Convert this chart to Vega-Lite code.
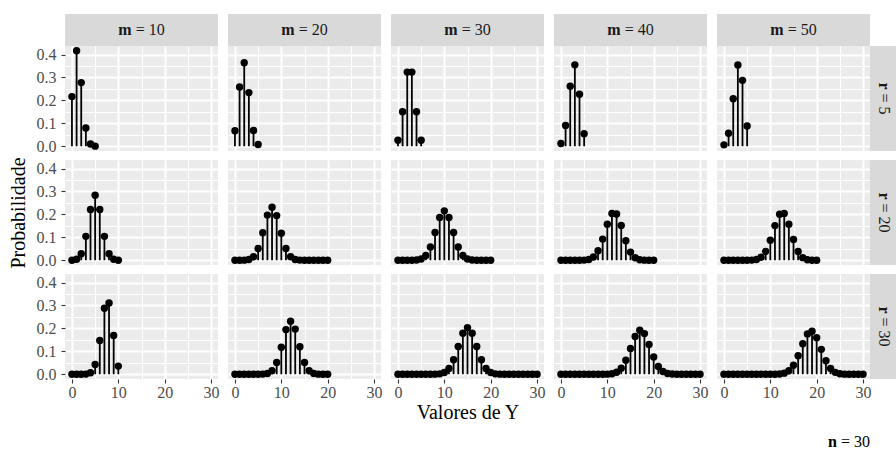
{
"$schema": "https://vega.github.io/schema/vega-lite/v6.json",
"background": "white",
"padding": {"left": 8, "top": 14, "right": 0, "bottom": 0},
"autosize": {"type": "pad"},
"datasets": {"h": [
{"m":10,"r":5,"k":0,"p":0.21657},{"m":10,"r":5,"k":1,"p":0.41648},{"m":10,"r":5,"k":2,"p":0.27765},{"m":10,"r":5,"k":3,"p":0.07933},{"m":10,"r":5,"k":4,"p":0.00957},{"m":10,"r":5,"k":5,"p":0.00038},
{"m":20,"r":5,"k":0,"p":0.06726},{"m":20,"r":5,"k":1,"p":0.25869},{"m":20,"r":5,"k":2,"p":0.36408},{"m":20,"r":5,"k":3,"p":0.23405},{"m":20,"r":5,"k":4,"p":0.0686},{"m":20,"r":5,"k":5,"p":0.00732},
{"m":30,"r":5,"k":0,"p":0.02609},{"m":30,"r":5,"k":1,"p":0.15054},{"m":30,"r":5,"k":2,"p":0.32338},{"m":30,"r":5,"k":3,"p":0.32338},{"m":30,"r":5,"k":4,"p":0.15054},{"m":30,"r":5,"k":5,"p":0.02609},
{"m":40,"r":5,"k":0,"p":0.01177},{"m":40,"r":5,"k":1,"p":0.09057},{"m":40,"r":5,"k":2,"p":0.26166},{"m":40,"r":5,"k":3,"p":0.35511},{"m":40,"r":5,"k":4,"p":0.22654},{"m":40,"r":5,"k":5,"p":0.05437},
{"m":50,"r":5,"k":0,"p":0.00593},{"m":50,"r":5,"k":1,"p":0.057},{"m":50,"r":5,"k":2,"p":0.20689},{"m":50,"r":5,"k":3,"p":0.35467},{"m":50,"r":5,"k":4,"p":0.28741},{"m":50,"r":5,"k":5,"p":0.08814},
{"m":10,"r":20,"k":0,"p":0.00022},{"m":10,"r":20,"k":1,"p":0.00396},{"m":10,"r":20,"k":2,"p":0.02824},{"m":10,"r":20,"k":3,"p":0.10426},{"m":10,"r":20,"k":4,"p":0.22154},{"m":10,"r":20,"k":5,"p":0.28358},{"m":10,"r":20,"k":6,"p":0.22154},{"m":10,"r":20,"k":7,"p":0.10426},{"m":10,"r":20,"k":8,"p":0.02824},{"m":10,"r":20,"k":9,"p":0.00396},{"m":10,"r":20,"k":10,"p":0.00022},
{"m":20,"r":20,"k":0,"p":0.0000006},{"m":20,"r":20,"k":1,"p":0.00002},{"m":20,"r":20,"k":2,"p":0.00035},{"m":20,"r":20,"k":3,"p":0.0029},{"m":20,"r":20,"k":4,"p":0.01495},{"m":20,"r":20,"k":5,"p":0.05103},{"m":20,"r":20,"k":6,"p":0.1196},{"m":20,"r":20,"k":7,"p":0.19698},{"m":20,"r":20,"k":8,"p":0.23118},{"m":20,"r":20,"k":9,"p":0.19468},{"m":20,"r":20,"k":10,"p":0.11778},{"m":20,"r":20,"k":11,"p":0.05099},{"m":20,"r":20,"k":12,"p":0.01564},{"m":20,"r":20,"k":13,"p":0.00335},{"m":20,"r":20,"k":14,"p":0.00049},{"m":20,"r":20,"k":15,"p":0.00005},{"m":20,"r":20,"k":16,"p":0.000003},{"m":20,"r":20,"k":17,"p":0.0000001},{"m":20,"r":20,"k":18,"p":0},{"m":20,"r":20,"k":19,"p":0},{"m":20,"r":20,"k":20,"p":0},
{"m":30,"r":20,"k":0,"p":0},{"m":30,"r":20,"k":1,"p":0.0000004},{"m":30,"r":20,"k":2,"p":0.000009},{"m":30,"r":20,"k":3,"p":0.00012},{"m":30,"r":20,"k":4,"p":0.00095},{"m":30,"r":20,"k":5,"p":0.00527},{"m":30,"r":20,"k":6,"p":0.0206},{"m":30,"r":20,"k":7,"p":0.05816},{"m":30,"r":20,"k":8,"p":0.12077},{"m":30,"r":20,"k":9,"p":0.18645},{"m":30,"r":20,"k":10,"p":0.21535},{"m":30,"r":20,"k":11,"p":0.18645},{"m":30,"r":20,"k":12,"p":0.12077},{"m":30,"r":20,"k":13,"p":0.05816},{"m":30,"r":20,"k":14,"p":0.0206},{"m":30,"r":20,"k":15,"p":0.00527},{"m":30,"r":20,"k":16,"p":0.00095},{"m":30,"r":20,"k":17,"p":0.00012},{"m":30,"r":20,"k":18,"p":0.000009},{"m":30,"r":20,"k":19,"p":0.0000004},{"m":30,"r":20,"k":20,"p":0},
{"m":40,"r":20,"k":0,"p":0},{"m":40,"r":20,"k":1,"p":0},{"m":40,"r":20,"k":2,"p":0.0000004},{"m":40,"r":20,"k":3,"p":0.0000073},{"m":40,"r":20,"k":4,"p":0.00008},{"m":40,"r":20,"k":5,"p":0.00063},{"m":40,"r":20,"k":6,"p":0.00345},{"m":40,"r":20,"k":7,"p":0.01379},{"m":40,"r":20,"k":8,"p":0.04109},{"m":40,"r":20,"k":9,"p":0.09227},{"m":40,"r":20,"k":10,"p":0.15732},{"m":40,"r":20,"k":11,"p":0.20431},{"m":40,"r":20,"k":12,"p":0.20199},{"m":40,"r":20,"k":13,"p":0.15132},{"m":40,"r":20,"k":14,"p":0.08512},{"m":40,"r":20,"k":15,"p":0.03541},{"m":40,"r":20,"k":16,"p":0.01064},{"m":40,"r":20,"k":17,"p":0.00223},{"m":40,"r":20,"k":18,"p":0.0003},{"m":40,"r":20,"k":19,"p":0.00002},{"m":40,"r":20,"k":20,"p":0.0000009},
{"m":50,"r":20,"k":0,"p":0},{"m":50,"r":20,"k":1,"p":0},{"m":50,"r":20,"k":2,"p":0},{"m":50,"r":20,"k":3,"p":0.0000007},{"m":50,"r":20,"k":4,"p":0.0000095},{"m":50,"r":20,"k":5,"p":0.00009},{"m":50,"r":20,"k":6,"p":0.00065},{"m":50,"r":20,"k":7,"p":0.00338},{"m":50,"r":20,"k":8,"p":0.01314},{"m":50,"r":20,"k":9,"p":0.03871},{"m":50,"r":20,"k":10,"p":0.0873},{"m":50,"r":20,"k":11,"p":0.15117},{"m":50,"r":20,"k":12,"p":0.20099},{"m":50,"r":20,"k":13,"p":0.20435},{"m":50,"r":20,"k":14,"p":0.15752},{"m":50,"r":20,"k":15,"p":0.09073},{"m":50,"r":20,"k":16,"p":0.03817},{"m":50,"r":20,"k":17,"p":0.01131},{"m":50,"r":20,"k":18,"p":0.00222},{"m":50,"r":20,"k":19,"p":0.00026},{"m":50,"r":20,"k":20,"p":0.00001},
{"m":10,"r":30,"k":0,"p":0},{"m":10,"r":30,"k":1,"p":0.0000004},{"m":10,"r":30,"k":2,"p":0.00002},{"m":10,"r":30,"k":3,"p":0.00057},{"m":10,"r":30,"k":4,"p":0.00679},{"m":10,"r":30,"k":5,"p":0.04237},{"m":10,"r":30,"k":6,"p":0.1471},{"m":10,"r":30,"k":7,"p":0.2882},{"m":10,"r":30,"k":8,"p":0.31072},{"m":10,"r":30,"k":9,"p":0.16878},{"m":10,"r":30,"k":10,"p":0.03544},
{"m":20,"r":30,"k":0,"p":0},{"m":20,"r":30,"k":1,"p":0},{"m":20,"r":30,"k":2,"p":0},{"m":20,"r":30,"k":3,"p":0.0000001},{"m":20,"r":30,"k":4,"p":0.000003},{"m":20,"r":30,"k":5,"p":0.00005},{"m":20,"r":30,"k":6,"p":0.00049},{"m":20,"r":30,"k":7,"p":0.00335},{"m":20,"r":30,"k":8,"p":0.01564},{"m":20,"r":30,"k":9,"p":0.05099},{"m":20,"r":30,"k":10,"p":0.11778},{"m":20,"r":30,"k":11,"p":0.19468},{"m":20,"r":30,"k":12,"p":0.23118},{"m":20,"r":30,"k":13,"p":0.19698},{"m":20,"r":30,"k":14,"p":0.1196},{"m":20,"r":30,"k":15,"p":0.05103},{"m":20,"r":30,"k":16,"p":0.01495},{"m":20,"r":30,"k":17,"p":0.0029},{"m":20,"r":30,"k":18,"p":0.00035},{"m":20,"r":30,"k":19,"p":0.00002},{"m":20,"r":30,"k":20,"p":0.0000006},
{"m":30,"r":30,"k":0,"p":0},{"m":30,"r":30,"k":1,"p":0},{"m":30,"r":30,"k":2,"p":0},{"m":30,"r":30,"k":3,"p":0},{"m":30,"r":30,"k":4,"p":0},{"m":30,"r":30,"k":5,"p":0.0000002},{"m":30,"r":30,"k":6,"p":0.000003},{"m":30,"r":30,"k":7,"p":0.000035},{"m":30,"r":30,"k":8,"p":0.00029},{"m":30,"r":30,"k":9,"p":0.00173},{"m":30,"r":30,"k":10,"p":0.00763},{"m":30,"r":30,"k":11,"p":0.02523},{"m":30,"r":30,"k":12,"p":0.06326},{"m":30,"r":30,"k":13,"p":0.12127},{"m":30,"r":30,"k":14,"p":0.17882},{"m":30,"r":30,"k":15,"p":0.20345},{"m":30,"r":30,"k":16,"p":0.17882},{"m":30,"r":30,"k":17,"p":0.12127},{"m":30,"r":30,"k":18,"p":0.06326},{"m":30,"r":30,"k":19,"p":0.02523},{"m":30,"r":30,"k":20,"p":0.00763},{"m":30,"r":30,"k":21,"p":0.00173},{"m":30,"r":30,"k":22,"p":0.00029},{"m":30,"r":30,"k":23,"p":0.000035},{"m":30,"r":30,"k":24,"p":0.000003},{"m":30,"r":30,"k":25,"p":0.0000002},{"m":30,"r":30,"k":26,"p":0},{"m":30,"r":30,"k":27,"p":0},{"m":30,"r":30,"k":28,"p":0},{"m":30,"r":30,"k":29,"p":0},{"m":30,"r":30,"k":30,"p":0},
{"m":40,"r":30,"k":0,"p":0},{"m":40,"r":30,"k":1,"p":0},{"m":40,"r":30,"k":2,"p":0},{"m":40,"r":30,"k":3,"p":0},{"m":40,"r":30,"k":4,"p":0},{"m":40,"r":30,"k":5,"p":0},{"m":40,"r":30,"k":6,"p":0.00000004},{"m":40,"r":30,"k":7,"p":0.0000007},{"m":40,"r":30,"k":8,"p":0.0000081},{"m":40,"r":30,"k":9,"p":0.00007},{"m":40,"r":30,"k":10,"p":0.00046},{"m":40,"r":30,"k":11,"p":0.00228},{"m":40,"r":30,"k":12,"p":0.00873},{"m":40,"r":30,"k":13,"p":0.02604},{"m":40,"r":30,"k":14,"p":0.06098},{"m":40,"r":30,"k":15,"p":0.11274},{"m":40,"r":30,"k":16,"p":0.16514},{"m":40,"r":30,"k":17,"p":0.192},{"m":40,"r":30,"k":18,"p":0.17718},{"m":40,"r":30,"k":19,"p":0.12957},{"m":40,"r":30,"k":20,"p":0.07483},{"m":40,"r":30,"k":21,"p":0.03394},{"m":40,"r":30,"k":22,"p":0.01199},{"m":40,"r":30,"k":23,"p":0.00326},{"m":40,"r":30,"k":24,"p":0.00067},{"m":40,"r":30,"k":25,"p":0.0001},{"m":40,"r":30,"k":26,"p":0.000011},{"m":40,"r":30,"k":27,"p":0.0000009},{"m":40,"r":30,"k":28,"p":0},{"m":40,"r":30,"k":29,"p":0},{"m":40,"r":30,"k":30,"p":0},
{"m":50,"r":30,"k":0,"p":0},{"m":50,"r":30,"k":1,"p":0},{"m":50,"r":30,"k":2,"p":0},{"m":50,"r":30,"k":3,"p":0},{"m":50,"r":30,"k":4,"p":0},{"m":50,"r":30,"k":5,"p":0},{"m":50,"r":30,"k":6,"p":0},{"m":50,"r":30,"k":7,"p":0},{"m":50,"r":30,"k":8,"p":0.0000004},{"m":50,"r":30,"k":9,"p":0.000004},{"m":50,"r":30,"k":10,"p":0.000035},{"m":50,"r":30,"k":11,"p":0.00023},{"m":50,"r":30,"k":12,"p":0.00118},{"m":50,"r":30,"k":13,"p":0.00479},{"m":50,"r":30,"k":14,"p":0.01537},{"m":50,"r":30,"k":15,"p":0.03936},{"m":50,"r":30,"k":16,"p":0.08071},{"m":50,"r":30,"k":17,"p":0.13294},{"m":50,"r":30,"k":18,"p":0.17602},{"m":50,"r":30,"k":19,"p":0.18723},{"m":50,"r":30,"k":20,"p":0.15962},{"m":50,"r":30,"k":21,"p":0.10858},{"m":50,"r":30,"k":22,"p":0.05855},{"m":50,"r":30,"k":23,"p":0.02479},{"m":50,"r":30,"k":24,"p":0.00814},{"m":50,"r":30,"k":25,"p":0.00203},{"m":50,"r":30,"k":26,"p":0.00038},{"m":50,"r":30,"k":27,"p":0.00005},{"m":50,"r":30,"k":28,"p":0.000004},{"m":50,"r":30,"k":29,"p":0.0000002},{"m":50,"r":30,"k":30,"p":0}
]},
"columns": 10,
"spacing": 0,
"bounds": "flush",
"align": "each",
"concat": [
{"width":153,"height":32,"view":{"fill":"#D9D9D9"},"data":{"values":[{}]},"layer":[{"mark":{"type":"text","text":"m","fontWeight":"bold","align":"right","dx":-9.85},"encoding":{}},{"mark":{"type":"text","text":"= 10","align":"left","dx":-5.85},"encoding":{}}]},
{"width":9.5,"height":1,"data":{"values":[{}]},"mark":{"type":"text","text":"","fontSize":0},"encoding":{}},
{"width":153,"height":32,"view":{"fill":"#D9D9D9"},"data":{"values":[{}]},"layer":[{"mark":{"type":"text","text":"m","fontWeight":"bold","align":"right","dx":-9.85},"encoding":{}},{"mark":{"type":"text","text":"= 20","align":"left","dx":-5.85},"encoding":{}}]},
{"width":9.5,"height":1,"data":{"values":[{}]},"mark":{"type":"text","text":"","fontSize":0},"encoding":{}},
{"width":153,"height":32,"view":{"fill":"#D9D9D9"},"data":{"values":[{}]},"layer":[{"mark":{"type":"text","text":"m","fontWeight":"bold","align":"right","dx":-9.85},"encoding":{}},{"mark":{"type":"text","text":"= 30","align":"left","dx":-5.85},"encoding":{}}]},
{"width":9.5,"height":1,"data":{"values":[{}]},"mark":{"type":"text","text":"","fontSize":0},"encoding":{}},
{"width":153,"height":32,"view":{"fill":"#D9D9D9"},"data":{"values":[{}]},"layer":[{"mark":{"type":"text","text":"m","fontWeight":"bold","align":"right","dx":-9.85},"encoding":{}},{"mark":{"type":"text","text":"= 40","align":"left","dx":-5.85},"encoding":{}}]},
{"width":9.5,"height":1,"data":{"values":[{}]},"mark":{"type":"text","text":"","fontSize":0},"encoding":{}},
{"width":153,"height":32,"view":{"fill":"#D9D9D9"},"data":{"values":[{}]},"layer":[{"mark":{"type":"text","text":"m","fontWeight":"bold","align":"right","dx":-9.85},"encoding":{}},{"mark":{"type":"text","text":"= 50","align":"left","dx":-5.85},"encoding":{}}]},
{"width":1,"height":1,"data":{"values":[{}]},"mark":{"type":"text","text":"","fontSize":0},"encoding":{}},

{"width":153,"height":105,"view":{"fill":"#EBEBEB"},"data":{"name":"h"},"transform":[{"filter":"datum.m==10 && datum.r==5"}],"resolve":{"axis":{"x":"independent","y":"independent"}},"layer":[{"mark":{"type":"rule","color":"#000000","strokeWidth":1.8},"encoding":{"x":{"field":"k","type":"quantitative","scale":{"domain":[-1.5,31.5],"nice":false,"zero":false},"axis":{"values":[0,10,20,30],"labels":false,"ticks":false,"title":null}},"y":{"field":"p","type":"quantitative","scale":{"domain":[-0.0208,0.4373],"nice":false,"zero":false},"axis":{"values":[0,0.1,0.2,0.3,0.4],"format":".1f","title":null}},"y2":{"datum":0}}},{"mark":{"type":"point","filled":true,"color":"#000000","size":55,"opacity":1},"encoding":{"x":{"field":"k","type":"quantitative","axis":{"orient":"top","grid":true,"gridWidth":1,"values":[5,15,25],"labels":false,"ticks":false,"title":null}},"y":{"field":"p","type":"quantitative","axis":{"orient":"right","grid":true,"gridWidth":1,"values":[0.05,0.15,0.25,0.35],"labels":false,"ticks":false,"title":null}}}}]},
{"width":1,"height":1,"data":{"values":[{}]},"mark":{"type":"text","text":"","fontSize":0},"encoding":{}},
{"width":153,"height":105,"view":{"fill":"#EBEBEB"},"data":{"name":"h"},"transform":[{"filter":"datum.m==20 && datum.r==5"}],"resolve":{"axis":{"x":"independent","y":"independent"}},"layer":[{"mark":{"type":"rule","color":"#000000","strokeWidth":1.8},"encoding":{"x":{"field":"k","type":"quantitative","scale":{"domain":[-1.5,31.5],"nice":false,"zero":false},"axis":{"values":[0,10,20,30],"labels":false,"ticks":false,"title":null}},"y":{"field":"p","type":"quantitative","scale":{"domain":[-0.0208,0.4373],"nice":false,"zero":false},"axis":{"values":[0,0.1,0.2,0.3,0.4],"labels":false,"ticks":false,"title":null}},"y2":{"datum":0}}},{"mark":{"type":"point","filled":true,"color":"#000000","size":55,"opacity":1},"encoding":{"x":{"field":"k","type":"quantitative","axis":{"orient":"top","grid":true,"gridWidth":1,"values":[5,15,25],"labels":false,"ticks":false,"title":null}},"y":{"field":"p","type":"quantitative","axis":{"orient":"right","grid":true,"gridWidth":1,"values":[0.05,0.15,0.25,0.35],"labels":false,"ticks":false,"title":null}}}}]},
{"width":1,"height":1,"data":{"values":[{}]},"mark":{"type":"text","text":"","fontSize":0},"encoding":{}},
{"width":153,"height":105,"view":{"fill":"#EBEBEB"},"data":{"name":"h"},"transform":[{"filter":"datum.m==30 && datum.r==5"}],"resolve":{"axis":{"x":"independent","y":"independent"}},"layer":[{"mark":{"type":"rule","color":"#000000","strokeWidth":1.8},"encoding":{"x":{"field":"k","type":"quantitative","scale":{"domain":[-1.5,31.5],"nice":false,"zero":false},"axis":{"values":[0,10,20,30],"labels":false,"ticks":false,"title":null}},"y":{"field":"p","type":"quantitative","scale":{"domain":[-0.0208,0.4373],"nice":false,"zero":false},"axis":{"values":[0,0.1,0.2,0.3,0.4],"labels":false,"ticks":false,"title":null}},"y2":{"datum":0}}},{"mark":{"type":"point","filled":true,"color":"#000000","size":55,"opacity":1},"encoding":{"x":{"field":"k","type":"quantitative","axis":{"orient":"top","grid":true,"gridWidth":1,"values":[5,15,25],"labels":false,"ticks":false,"title":null}},"y":{"field":"p","type":"quantitative","axis":{"orient":"right","grid":true,"gridWidth":1,"values":[0.05,0.15,0.25,0.35],"labels":false,"ticks":false,"title":null}}}}]},
{"width":1,"height":1,"data":{"values":[{}]},"mark":{"type":"text","text":"","fontSize":0},"encoding":{}},
{"width":153,"height":105,"view":{"fill":"#EBEBEB"},"data":{"name":"h"},"transform":[{"filter":"datum.m==40 && datum.r==5"}],"resolve":{"axis":{"x":"independent","y":"independent"}},"layer":[{"mark":{"type":"rule","color":"#000000","strokeWidth":1.8},"encoding":{"x":{"field":"k","type":"quantitative","scale":{"domain":[-1.5,31.5],"nice":false,"zero":false},"axis":{"values":[0,10,20,30],"labels":false,"ticks":false,"title":null}},"y":{"field":"p","type":"quantitative","scale":{"domain":[-0.0208,0.4373],"nice":false,"zero":false},"axis":{"values":[0,0.1,0.2,0.3,0.4],"labels":false,"ticks":false,"title":null}},"y2":{"datum":0}}},{"mark":{"type":"point","filled":true,"color":"#000000","size":55,"opacity":1},"encoding":{"x":{"field":"k","type":"quantitative","axis":{"orient":"top","grid":true,"gridWidth":1,"values":[5,15,25],"labels":false,"ticks":false,"title":null}},"y":{"field":"p","type":"quantitative","axis":{"orient":"right","grid":true,"gridWidth":1,"values":[0.05,0.15,0.25,0.35],"labels":false,"ticks":false,"title":null}}}}]},
{"width":1,"height":1,"data":{"values":[{}]},"mark":{"type":"text","text":"","fontSize":0},"encoding":{}},
{"width":153,"height":105,"view":{"fill":"#EBEBEB"},"data":{"name":"h"},"transform":[{"filter":"datum.m==50 && datum.r==5"}],"resolve":{"axis":{"x":"independent","y":"independent"}},"layer":[{"mark":{"type":"rule","color":"#000000","strokeWidth":1.8},"encoding":{"x":{"field":"k","type":"quantitative","scale":{"domain":[-1.5,31.5],"nice":false,"zero":false},"axis":{"values":[0,10,20,30],"labels":false,"ticks":false,"title":null}},"y":{"field":"p","type":"quantitative","scale":{"domain":[-0.0208,0.4373],"nice":false,"zero":false},"axis":{"values":[0,0.1,0.2,0.3,0.4],"labels":false,"ticks":false,"title":null}},"y2":{"datum":0}}},{"mark":{"type":"point","filled":true,"color":"#000000","size":55,"opacity":1},"encoding":{"x":{"field":"k","type":"quantitative","axis":{"orient":"top","grid":true,"gridWidth":1,"values":[5,15,25],"labels":false,"ticks":false,"title":null}},"y":{"field":"p","type":"quantitative","axis":{"orient":"right","grid":true,"gridWidth":1,"values":[0.05,0.15,0.25,0.35],"labels":false,"ticks":false,"title":null}}}}]},
{"width":28,"height":105,"view":{"fill":"#D9D9D9"},"data":{"values":[{}]},"layer":[{"mark":{"type":"text","text":"r","fontWeight":"bold","angle":90,"align":"right","dx":-8.95},"encoding":{}},{"mark":{"type":"text","text":"= 5","angle":90,"align":"left","dx":-4.95},"encoding":{}}]},

{"width":1,"height":9,"data":{"values":[{}]},"mark":{"type":"text","text":"","fontSize":0},"encoding":{}},
{"width":1,"height":9,"data":{"values":[{}]},"mark":{"type":"text","text":"","fontSize":0},"encoding":{}},
{"width":1,"height":9,"data":{"values":[{}]},"mark":{"type":"text","text":"","fontSize":0},"encoding":{}},
{"width":1,"height":9,"data":{"values":[{}]},"mark":{"type":"text","text":"","fontSize":0},"encoding":{}},
{"width":1,"height":9,"data":{"values":[{}]},"mark":{"type":"text","text":"","fontSize":0},"encoding":{}},
{"width":1,"height":9,"data":{"values":[{}]},"mark":{"type":"text","text":"","fontSize":0},"encoding":{}},
{"width":1,"height":9,"data":{"values":[{}]},"mark":{"type":"text","text":"","fontSize":0},"encoding":{}},
{"width":1,"height":9,"data":{"values":[{}]},"mark":{"type":"text","text":"","fontSize":0},"encoding":{}},
{"width":1,"height":9,"data":{"values":[{}]},"mark":{"type":"text","text":"","fontSize":0},"encoding":{}},
{"width":1,"height":9,"data":{"values":[{}]},"mark":{"type":"text","text":"","fontSize":0},"encoding":{}},

{"width":153,"height":105,"view":{"fill":"#EBEBEB"},"data":{"name":"h"},"transform":[{"filter":"datum.m==10 && datum.r==20"}],"resolve":{"axis":{"x":"independent","y":"independent"}},"layer":[{"mark":{"type":"rule","color":"#000000","strokeWidth":1.8},"encoding":{"x":{"field":"k","type":"quantitative","scale":{"domain":[-1.5,31.5],"nice":false,"zero":false},"axis":{"values":[0,10,20,30],"labels":false,"ticks":false,"title":null}},"y":{"field":"p","type":"quantitative","scale":{"domain":[-0.0208,0.4373],"nice":false,"zero":false},"axis":{"values":[0,0.1,0.2,0.3,0.4],"format":".1f","title":"Probabilidade"}},"y2":{"datum":0}}},{"mark":{"type":"point","filled":true,"color":"#000000","size":55,"opacity":1},"encoding":{"x":{"field":"k","type":"quantitative","axis":{"orient":"top","grid":true,"gridWidth":1,"values":[5,15,25],"labels":false,"ticks":false,"title":null}},"y":{"field":"p","type":"quantitative","axis":{"orient":"right","grid":true,"gridWidth":1,"values":[0.05,0.15,0.25,0.35],"labels":false,"ticks":false,"title":null}}}}]},
{"width":1,"height":1,"data":{"values":[{}]},"mark":{"type":"text","text":"","fontSize":0},"encoding":{}},
{"width":153,"height":105,"view":{"fill":"#EBEBEB"},"data":{"name":"h"},"transform":[{"filter":"datum.m==20 && datum.r==20"}],"resolve":{"axis":{"x":"independent","y":"independent"}},"layer":[{"mark":{"type":"rule","color":"#000000","strokeWidth":1.8},"encoding":{"x":{"field":"k","type":"quantitative","scale":{"domain":[-1.5,31.5],"nice":false,"zero":false},"axis":{"values":[0,10,20,30],"labels":false,"ticks":false,"title":null}},"y":{"field":"p","type":"quantitative","scale":{"domain":[-0.0208,0.4373],"nice":false,"zero":false},"axis":{"values":[0,0.1,0.2,0.3,0.4],"labels":false,"ticks":false,"title":null}},"y2":{"datum":0}}},{"mark":{"type":"point","filled":true,"color":"#000000","size":55,"opacity":1},"encoding":{"x":{"field":"k","type":"quantitative","axis":{"orient":"top","grid":true,"gridWidth":1,"values":[5,15,25],"labels":false,"ticks":false,"title":null}},"y":{"field":"p","type":"quantitative","axis":{"orient":"right","grid":true,"gridWidth":1,"values":[0.05,0.15,0.25,0.35],"labels":false,"ticks":false,"title":null}}}}]},
{"width":1,"height":1,"data":{"values":[{}]},"mark":{"type":"text","text":"","fontSize":0},"encoding":{}},
{"width":153,"height":105,"view":{"fill":"#EBEBEB"},"data":{"name":"h"},"transform":[{"filter":"datum.m==30 && datum.r==20"}],"resolve":{"axis":{"x":"independent","y":"independent"}},"layer":[{"mark":{"type":"rule","color":"#000000","strokeWidth":1.8},"encoding":{"x":{"field":"k","type":"quantitative","scale":{"domain":[-1.5,31.5],"nice":false,"zero":false},"axis":{"values":[0,10,20,30],"labels":false,"ticks":false,"title":null}},"y":{"field":"p","type":"quantitative","scale":{"domain":[-0.0208,0.4373],"nice":false,"zero":false},"axis":{"values":[0,0.1,0.2,0.3,0.4],"labels":false,"ticks":false,"title":null}},"y2":{"datum":0}}},{"mark":{"type":"point","filled":true,"color":"#000000","size":55,"opacity":1},"encoding":{"x":{"field":"k","type":"quantitative","axis":{"orient":"top","grid":true,"gridWidth":1,"values":[5,15,25],"labels":false,"ticks":false,"title":null}},"y":{"field":"p","type":"quantitative","axis":{"orient":"right","grid":true,"gridWidth":1,"values":[0.05,0.15,0.25,0.35],"labels":false,"ticks":false,"title":null}}}}]},
{"width":1,"height":1,"data":{"values":[{}]},"mark":{"type":"text","text":"","fontSize":0},"encoding":{}},
{"width":153,"height":105,"view":{"fill":"#EBEBEB"},"data":{"name":"h"},"transform":[{"filter":"datum.m==40 && datum.r==20"}],"resolve":{"axis":{"x":"independent","y":"independent"}},"layer":[{"mark":{"type":"rule","color":"#000000","strokeWidth":1.8},"encoding":{"x":{"field":"k","type":"quantitative","scale":{"domain":[-1.5,31.5],"nice":false,"zero":false},"axis":{"values":[0,10,20,30],"labels":false,"ticks":false,"title":null}},"y":{"field":"p","type":"quantitative","scale":{"domain":[-0.0208,0.4373],"nice":false,"zero":false},"axis":{"values":[0,0.1,0.2,0.3,0.4],"labels":false,"ticks":false,"title":null}},"y2":{"datum":0}}},{"mark":{"type":"point","filled":true,"color":"#000000","size":55,"opacity":1},"encoding":{"x":{"field":"k","type":"quantitative","axis":{"orient":"top","grid":true,"gridWidth":1,"values":[5,15,25],"labels":false,"ticks":false,"title":null}},"y":{"field":"p","type":"quantitative","axis":{"orient":"right","grid":true,"gridWidth":1,"values":[0.05,0.15,0.25,0.35],"labels":false,"ticks":false,"title":null}}}}]},
{"width":1,"height":1,"data":{"values":[{}]},"mark":{"type":"text","text":"","fontSize":0},"encoding":{}},
{"width":153,"height":105,"view":{"fill":"#EBEBEB"},"data":{"name":"h"},"transform":[{"filter":"datum.m==50 && datum.r==20"}],"resolve":{"axis":{"x":"independent","y":"independent"}},"layer":[{"mark":{"type":"rule","color":"#000000","strokeWidth":1.8},"encoding":{"x":{"field":"k","type":"quantitative","scale":{"domain":[-1.5,31.5],"nice":false,"zero":false},"axis":{"values":[0,10,20,30],"labels":false,"ticks":false,"title":null}},"y":{"field":"p","type":"quantitative","scale":{"domain":[-0.0208,0.4373],"nice":false,"zero":false},"axis":{"values":[0,0.1,0.2,0.3,0.4],"labels":false,"ticks":false,"title":null}},"y2":{"datum":0}}},{"mark":{"type":"point","filled":true,"color":"#000000","size":55,"opacity":1},"encoding":{"x":{"field":"k","type":"quantitative","axis":{"orient":"top","grid":true,"gridWidth":1,"values":[5,15,25],"labels":false,"ticks":false,"title":null}},"y":{"field":"p","type":"quantitative","axis":{"orient":"right","grid":true,"gridWidth":1,"values":[0.05,0.15,0.25,0.35],"labels":false,"ticks":false,"title":null}}}}]},
{"width":28,"height":105,"view":{"fill":"#D9D9D9"},"data":{"values":[{}]},"layer":[{"mark":{"type":"text","text":"r","fontWeight":"bold","angle":90,"align":"right","dx":-12.95},"encoding":{}},{"mark":{"type":"text","text":"= 20","angle":90,"align":"left","dx":-8.95},"encoding":{}}]},

{"width":1,"height":9,"data":{"values":[{}]},"mark":{"type":"text","text":"","fontSize":0},"encoding":{}},
{"width":1,"height":9,"data":{"values":[{}]},"mark":{"type":"text","text":"","fontSize":0},"encoding":{}},
{"width":1,"height":9,"data":{"values":[{}]},"mark":{"type":"text","text":"","fontSize":0},"encoding":{}},
{"width":1,"height":9,"data":{"values":[{}]},"mark":{"type":"text","text":"","fontSize":0},"encoding":{}},
{"width":1,"height":9,"data":{"values":[{}]},"mark":{"type":"text","text":"","fontSize":0},"encoding":{}},
{"width":1,"height":9,"data":{"values":[{}]},"mark":{"type":"text","text":"","fontSize":0},"encoding":{}},
{"width":1,"height":9,"data":{"values":[{}]},"mark":{"type":"text","text":"","fontSize":0},"encoding":{}},
{"width":1,"height":9,"data":{"values":[{}]},"mark":{"type":"text","text":"","fontSize":0},"encoding":{}},
{"width":1,"height":9,"data":{"values":[{}]},"mark":{"type":"text","text":"","fontSize":0},"encoding":{}},
{"width":1,"height":9,"data":{"values":[{}]},"mark":{"type":"text","text":"","fontSize":0},"encoding":{}},

{"width":153,"height":105,"view":{"fill":"#EBEBEB"},"data":{"name":"h"},"transform":[{"filter":"datum.m==10 && datum.r==30"}],"resolve":{"axis":{"x":"independent","y":"independent"}},"layer":[{"mark":{"type":"rule","color":"#000000","strokeWidth":1.8},"encoding":{"x":{"field":"k","type":"quantitative","scale":{"domain":[-1.5,31.5],"nice":false,"zero":false},"axis":{"values":[0,10,20,30],"format":"d","title":null}},"y":{"field":"p","type":"quantitative","scale":{"domain":[-0.0208,0.4373],"nice":false,"zero":false},"axis":{"values":[0,0.1,0.2,0.3,0.4],"format":".1f","title":null}},"y2":{"datum":0}}},{"mark":{"type":"point","filled":true,"color":"#000000","size":55,"opacity":1},"encoding":{"x":{"field":"k","type":"quantitative","axis":{"orient":"top","grid":true,"gridWidth":1,"values":[5,15,25],"labels":false,"ticks":false,"title":null}},"y":{"field":"p","type":"quantitative","axis":{"orient":"right","grid":true,"gridWidth":1,"values":[0.05,0.15,0.25,0.35],"labels":false,"ticks":false,"title":null}}}}]},
{"width":1,"height":1,"data":{"values":[{}]},"mark":{"type":"text","text":"","fontSize":0},"encoding":{}},
{"width":153,"height":105,"view":{"fill":"#EBEBEB"},"data":{"name":"h"},"transform":[{"filter":"datum.m==20 && datum.r==30"}],"resolve":{"axis":{"x":"independent","y":"independent"}},"layer":[{"mark":{"type":"rule","color":"#000000","strokeWidth":1.8},"encoding":{"x":{"field":"k","type":"quantitative","scale":{"domain":[-1.5,31.5],"nice":false,"zero":false},"axis":{"values":[0,10,20,30],"format":"d","title":null}},"y":{"field":"p","type":"quantitative","scale":{"domain":[-0.0208,0.4373],"nice":false,"zero":false},"axis":{"values":[0,0.1,0.2,0.3,0.4],"labels":false,"ticks":false,"title":null}},"y2":{"datum":0}}},{"mark":{"type":"point","filled":true,"color":"#000000","size":55,"opacity":1},"encoding":{"x":{"field":"k","type":"quantitative","axis":{"orient":"top","grid":true,"gridWidth":1,"values":[5,15,25],"labels":false,"ticks":false,"title":null}},"y":{"field":"p","type":"quantitative","axis":{"orient":"right","grid":true,"gridWidth":1,"values":[0.05,0.15,0.25,0.35],"labels":false,"ticks":false,"title":null}}}}]},
{"width":1,"height":1,"data":{"values":[{}]},"mark":{"type":"text","text":"","fontSize":0},"encoding":{}},
{"width":153,"height":105,"view":{"fill":"#EBEBEB"},"data":{"name":"h"},"transform":[{"filter":"datum.m==30 && datum.r==30"}],"resolve":{"axis":{"x":"independent","y":"independent"}},"layer":[{"mark":{"type":"rule","color":"#000000","strokeWidth":1.8},"encoding":{"x":{"field":"k","type":"quantitative","scale":{"domain":[-1.5,31.5],"nice":false,"zero":false},"axis":{"values":[0,10,20,30],"format":"d","title":"Valores de Y"}},"y":{"field":"p","type":"quantitative","scale":{"domain":[-0.0208,0.4373],"nice":false,"zero":false},"axis":{"values":[0,0.1,0.2,0.3,0.4],"labels":false,"ticks":false,"title":null}},"y2":{"datum":0}}},{"mark":{"type":"point","filled":true,"color":"#000000","size":55,"opacity":1},"encoding":{"x":{"field":"k","type":"quantitative","axis":{"orient":"top","grid":true,"gridWidth":1,"values":[5,15,25],"labels":false,"ticks":false,"title":null}},"y":{"field":"p","type":"quantitative","axis":{"orient":"right","grid":true,"gridWidth":1,"values":[0.05,0.15,0.25,0.35],"labels":false,"ticks":false,"title":null}}}}]},
{"width":1,"height":1,"data":{"values":[{}]},"mark":{"type":"text","text":"","fontSize":0},"encoding":{}},
{"width":153,"height":105,"view":{"fill":"#EBEBEB"},"data":{"name":"h"},"transform":[{"filter":"datum.m==40 && datum.r==30"}],"resolve":{"axis":{"x":"independent","y":"independent"}},"layer":[{"mark":{"type":"rule","color":"#000000","strokeWidth":1.8},"encoding":{"x":{"field":"k","type":"quantitative","scale":{"domain":[-1.5,31.5],"nice":false,"zero":false},"axis":{"values":[0,10,20,30],"format":"d","title":null}},"y":{"field":"p","type":"quantitative","scale":{"domain":[-0.0208,0.4373],"nice":false,"zero":false},"axis":{"values":[0,0.1,0.2,0.3,0.4],"labels":false,"ticks":false,"title":null}},"y2":{"datum":0}}},{"mark":{"type":"point","filled":true,"color":"#000000","size":55,"opacity":1},"encoding":{"x":{"field":"k","type":"quantitative","axis":{"orient":"top","grid":true,"gridWidth":1,"values":[5,15,25],"labels":false,"ticks":false,"title":null}},"y":{"field":"p","type":"quantitative","axis":{"orient":"right","grid":true,"gridWidth":1,"values":[0.05,0.15,0.25,0.35],"labels":false,"ticks":false,"title":null}}}}]},
{"width":1,"height":1,"data":{"values":[{}]},"mark":{"type":"text","text":"","fontSize":0},"encoding":{}},
{"width":153,"height":105,"view":{"fill":"#EBEBEB"},"data":{"name":"h"},"transform":[{"filter":"datum.m==50 && datum.r==30"}],"resolve":{"axis":{"x":"independent","y":"independent"}},"layer":[{"mark":{"type":"rule","color":"#000000","strokeWidth":1.8},"encoding":{"x":{"field":"k","type":"quantitative","scale":{"domain":[-1.5,31.5],"nice":false,"zero":false},"axis":{"values":[0,10,20,30],"format":"d","title":null}},"y":{"field":"p","type":"quantitative","scale":{"domain":[-0.0208,0.4373],"nice":false,"zero":false},"axis":{"values":[0,0.1,0.2,0.3,0.4],"labels":false,"ticks":false,"title":null}},"y2":{"datum":0}}},{"mark":{"type":"point","filled":true,"color":"#000000","size":55,"opacity":1},"encoding":{"x":{"field":"k","type":"quantitative","axis":{"orient":"top","grid":true,"gridWidth":1,"values":[5,15,25],"labels":false,"ticks":false,"title":null}},"y":{"field":"p","type":"quantitative","axis":{"orient":"right","grid":true,"gridWidth":1,"values":[0.05,0.15,0.25,0.35],"labels":false,"ticks":false,"title":null}}}}]},
{"width":28,"height":105,"view":{"fill":"#D9D9D9"},"data":{"values":[{}]},"layer":[{"mark":{"type":"text","text":"r","fontWeight":"bold","angle":90,"align":"right","dx":-12.95},"encoding":{}},{"mark":{"type":"text","text":"= 30","angle":90,"align":"left","dx":-8.95},"encoding":{}}]},

{"width":1,"height":1,"data":{"values":[{}]},"mark":{"type":"text","text":"","fontSize":0},"encoding":{}},
{"width":1,"height":1,"data":{"values":[{}]},"mark":{"type":"text","text":"","fontSize":0},"encoding":{}},
{"width":1,"height":1,"data":{"values":[{}]},"mark":{"type":"text","text":"","fontSize":0},"encoding":{}},
{"width":1,"height":1,"data":{"values":[{}]},"mark":{"type":"text","text":"","fontSize":0},"encoding":{}},
{"width":1,"height":1,"data":{"values":[{}]},"mark":{"type":"text","text":"","fontSize":0},"encoding":{}},
{"width":1,"height":1,"data":{"values":[{}]},"mark":{"type":"text","text":"","fontSize":0},"encoding":{}},
{"width":1,"height":1,"data":{"values":[{}]},"mark":{"type":"text","text":"","fontSize":0},"encoding":{}},
{"width":1,"height":1,"data":{"values":[{}]},"mark":{"type":"text","text":"","fontSize":0},"encoding":{}},
{"width":153,"height":67.5,"data":{"values":[{}]},"layer":[{"mark":{"type":"text","text":"= 30","align":"right","baseline":"alphabetic","color":"#000000"},"encoding":{"x":{"value":"width"},"y":{"value":"height"}}},{"mark":{"type":"text","text":"n","fontWeight":"bold","align":"right","baseline":"alphabetic","color":"#000000","dx":-33},"encoding":{"x":{"value":"width"},"y":{"value":"height"}}}]}
],
"config": {
"font": "Liberation Serif",
"view": {"stroke": null},
"axis": {"domain": false, "grid": true, "gridColor": "#FFFFFF", "gridWidth": 2, "labelFont": "Liberation Serif", "labelFontSize": 16, "labelColor": "#4D4D4D", "tickColor": "#333333", "tickSize": 4, "tickWidth": 1.1, "labelFlush": false, "labelOverlap": false, "titleFont": "Liberation Serif", "titleFontSize": 20, "titleFontWeight": "normal", "titleColor": "#000000"},
"axisX": {"labelPadding": 1, "titlePadding": 2},
"axisY": {"labelPadding": 5, "titlePadding": 8},
"text": {"font": "Liberation Serif", "fontSize": 16, "color": "#1A1A1A"}
}
}
